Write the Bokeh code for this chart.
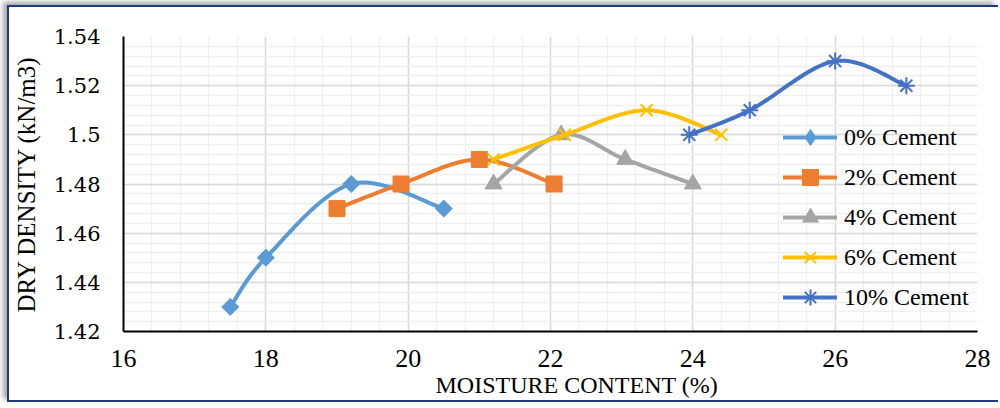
import numpy as np
from bokeh.plotting import figure
from bokeh.models import FixedTicker, Range1d, Legend, LegendItem, Title
from bokeh.embed import file_html
from bokeh.resources import INLINE

# ---------------- data ----------------
series_names = ["0% Cement", "2% Cement", "4% Cement", "6% Cement", "10% Cement"]
mc_0 = [17.5, 18.0, 19.2, 20.5]
dd_0 = [1.43, 1.45, 1.48, 1.47]
mc_2 = [19.0, 19.9, 21.0, 22.05]
dd_2 = [1.47, 1.48, 1.49, 1.48]
mc_4 = [21.2, 22.15, 23.05, 24.0]
dd_4 = [1.48, 1.50, 1.49, 1.48]
mc_6 = [21.2, 22.2, 23.35, 24.4]
dd_6 = [1.49, 1.50, 1.51, 1.50]
mc_10 = [23.95, 24.8, 26.0, 27.0]
dd_10 = [1.50, 1.51, 1.53, 1.52]

x_ticks = [16, 18, 20, 22, 24, 26, 28]
x_tick_labels = ["16", "18", "20", "22", "24", "26", "28"]
y_ticks = [1.42, 1.44, 1.46, 1.48, 1.50, 1.52, 1.54]
y_tick_labels = ["1.42", "1.44", "1.46", "1.48", "1.5", "1.52", "1.54"]

x_title = "MOISTURE CONTENT (%)"
y_title = "DRY DENSITY (kN/m3)"

# ---------------- styling ----------------
colors = ["#5B9BD5", "#ED7D31", "#A5A5A5", "#FFC000", "#4472C4"]
SERIF = "Liberation Serif"


def smooth(xs, ys, n=40):
    """Excel-like smoothed line (Catmull-Rom Bezier) through the points."""
    P = np.column_stack([xs, ys]).astype(float)
    E = np.vstack([P[0], P, P[-1]])
    out = [P[0]]
    t = np.linspace(0, 1, n)[1:, None]
    for i in range(len(P) - 1):
        p0, p1, p2, p3 = E[i], E[i + 1], E[i + 2], E[i + 3]
        c1 = p1 + (p2 - p0) / 6.0
        c2 = p2 - (p3 - p1) / 6.0
        pts = (1 - t) ** 3 * p1 + 3 * (1 - t) ** 2 * t * c1 + 3 * (1 - t) * t ** 2 * c2 + t ** 3 * p2
        out.extend(pts)
    out = np.array(out)
    return out[:, 0], out[:, 1]


p = figure(
    width=991, height=397,
    output_backend="svg", toolbar_location=None,
    x_range=Range1d(16, 28), y_range=Range1d(1.42, 1.54),
    min_border_left=113, min_border_right=23, min_border_top=29, min_border_bottom=73,
    background_fill_color="white", border_fill_color="white",
)
p.outline_line_color = None
p.margin = (5, 0, 0, 7)
p.styles = {
    "border-left": "2px solid #1F3B7A",
    "border-top": "2px solid #1F3B7A",
    "border-bottom": "2px solid #1F3B7A",
    "box-shadow": "-4px -3px 5px rgba(0,0,0,0.35)",
}

# ticks / grids
x_minor = list(np.round(np.arange(16, 28.001, 0.4), 3))
y_minor = list(np.round(np.arange(1.42, 1.5401, 0.004), 4))
xt = FixedTicker(ticks=x_ticks, minor_ticks=x_minor)
yt = FixedTicker(ticks=y_ticks, minor_ticks=y_minor)
p.xaxis.ticker = xt
p.yaxis.ticker = yt
p.xgrid.ticker = xt
p.ygrid.ticker = yt
p.xaxis.major_label_overrides = {t: l for t, l in zip(x_ticks, x_tick_labels)}
p.yaxis.major_label_overrides = {t: l for t, l in zip(y_ticks, y_tick_labels)}

for g in (p.xgrid, p.ygrid):
    g.grid_line_color = "#D9D9D9"
    g.grid_line_width = 1.5
    g.minor_grid_line_color = "#EFEFEF"
    g.minor_grid_line_width = 1.3

for ax in (p.xaxis, p.yaxis):
    ax.axis_line_color = "black"
    ax.axis_line_width = 2
    ax.major_tick_line_color = None
    ax.minor_tick_line_color = None
    ax.major_label_text_color = "black"
    ax.axis_label_text_color = "black"
    ax.axis_label_text_font_style = "normal"

p.xaxis.major_label_text_font = SERIF
p.xaxis.major_label_text_font_size = "26px"
p.xaxis.major_label_standoff = 12

# x-axis title as a below-panel Title so it can sit where the reference puts it
xt_title = Title(text=x_title, align="left", offset=312,
                 text_font=SERIF, text_font_size="24px", text_font_style="normal",
                 text_color="black", standoff=0)
p.add_layout(xt_title, "below")

p.yaxis.major_label_text_font = "DejaVu Serif"
p.yaxis.major_label_text_font_size = "21px"
p.yaxis.major_label_standoff = 17
p.yaxis.axis_label = y_title
p.yaxis.axis_label_text_font = SERIF
p.yaxis.axis_label_text_font_size = "25px"
p.yaxis.axis_label_standoff = 11

# ---------------- series ----------------
all_x = [mc_0, mc_2, mc_4, mc_6, mc_10]
all_y = [dd_0, dd_2, dd_4, dd_6, dd_10]
marker_specs = [
    dict(marker="square", size=12, angle=np.pi / 4),
    dict(marker="square", size=16),
    dict(marker="triangle", size=17),
    dict(marker="x", size=17, line_width=2),
    dict(marker="asterisk", size=17, line_width=2),
]

items = []
for i, (name, xs, ys, c, ms) in enumerate(zip(series_names, all_x, all_y, colors, marker_specs)):
    sx, sy = smooth(xs, ys)
    lr = p.line(sx, sy, line_color=c, line_width=4, line_join="round", line_cap="round")
    ms = dict(ms)
    if ms["marker"] in ("x", "asterisk"):
        sr = p.scatter(xs, ys, line_color=c, **ms)
    else:
        sr = p.scatter(xs, ys, fill_color=c, line_color=c, **ms)
    rends = [lr, sr]
    if i == 0:
        # legend-only diamond glyph (legend ignores marker angle)
        dr = p.scatter([np.nan], [np.nan], marker="diamond", size=16, fill_color=c, line_color=c)
        rends = [lr, dr]
    items.append(LegendItem(label=name, renderers=rends))

legend = Legend(
    items=items,
    location=(660, 14),
    orientation="vertical",
    glyph_width=54, glyph_height=40, label_height=40,
    spacing=0, padding=0, margin=0, label_standoff=7,
    label_text_font=SERIF, label_text_font_size="24px", label_text_color="black",
    background_fill_alpha=0, border_line_alpha=0,
)
p.add_layout(legend, "center")

open("out.html", "w").write(file_html(p, INLINE))
